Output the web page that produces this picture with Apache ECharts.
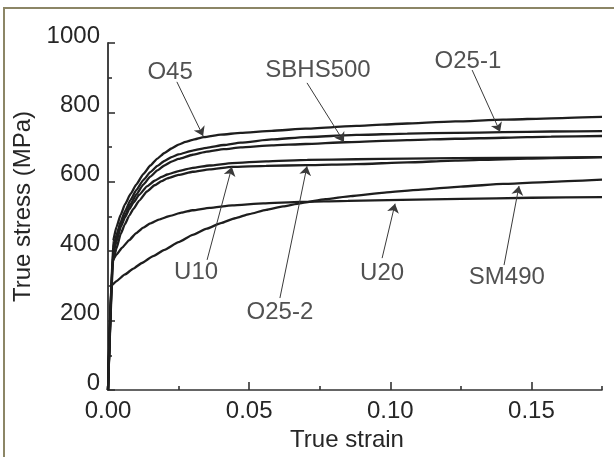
<!DOCTYPE html>
<html>
<head>
<meta charset="utf-8">
<script src="https://cdn.jsdelivr.net/npm/echarts@6/dist/echarts.min.js"></script>
<style>
  html, body { margin: 0; padding: 0; background: #ffffff; }
  #chart { position: absolute; left: 0; top: 0; width: 614px; height: 457px; }
  #frame {
    position: absolute; left: 3px; top: 7px; width: 620px; height: 460px;
    border-left: 2px solid #8c8666; border-top: 2px solid #8c8666;
    pointer-events: none;
  }
</style>
</head>
<body>
<div id="chart"></div>
<div id="frame"></div>
<script>
// True stress - true strain curves, [strain, stress (MPa)]
const O45 = [[0,0],[0.0018,430],[0.003,470],[0.0045,505],[0.006,535],[0.008,565],[0.010,592],[0.0125,622],[0.015,647],[0.0175,667],[0.020,683],[0.0225,696],[0.025,707],[0.0275,715],[0.030,721],[0.034,729],[0.040,736],[0.047,741],[0.058,747],[0.070,753],[0.088,761],[0.106,768],[0.123,774],[0.140,779],[0.157,783],[0.175,787]];
const O25_1 = [[0,0],[0.0018,410],[0.003,447],[0.0045,485],[0.006,515],[0.008,548],[0.010,576],[0.0125,605],[0.015,628],[0.0175,646],[0.020,660],[0.0225,671],[0.025,679],[0.030,690],[0.035,698],[0.041,706],[0.047,713],[0.058,722],[0.070,729],[0.088,735],[0.106,739],[0.123,741],[0.140,743],[0.157,745],[0.175,746]];
const SBHS500 = [[0,0],[0.0018,400],[0.003,437],[0.0045,473],[0.006,503],[0.008,536],[0.010,563],[0.0125,592],[0.015,615],[0.0175,633],[0.020,647],[0.0225,658],[0.025,666],[0.030,678],[0.035,687],[0.041,694],[0.047,699],[0.058,705],[0.070,709],[0.084,714],[0.106,720],[0.123,724],[0.140,727],[0.157,730],[0.175,732]];
const O25_2 = [[0,0],[0.0018,390],[0.003,428],[0.0045,470],[0.006,497],[0.0075,520],[0.009,540],[0.011,562],[0.0138,587],[0.0165,603],[0.019,614],[0.021,621],[0.025,631],[0.030,640],[0.036,647],[0.044,654],[0.056,659],[0.0706,663],[0.088,665],[0.106,667],[0.140,669],[0.175,671]];
const U10 = [[0,0],[0.0018,370],[0.003,408],[0.0045,450],[0.006,478],[0.0075,502],[0.009,522],[0.011,545],[0.0138,572],[0.0165,590],[0.019,602],[0.021,610],[0.025,620],[0.030,629],[0.036,636],[0.044,643],[0.056,646],[0.0706,648],[0.088,651],[0.106,656],[0.123,661],[0.140,665],[0.157,668],[0.175,671]];
const U20 = [[0,0],[0.0015,372],[0.003,390],[0.005,410],[0.0075,432],[0.010,452],[0.0125,468],[0.015,480],[0.018,491],[0.022,502],[0.026,511],[0.030,518],[0.036,525],[0.044,532],[0.055,538],[0.068,542],[0.085,545],[0.104,548],[0.125,551],[0.150,554],[0.175,556]];
const SM490 = [[0,0],[0.0011,300],[0.003,314],[0.006,333],[0.009,350],[0.012,366],[0.016,386],[0.020,404],[0.025,426],[0.030,447],[0.035,465],[0.040,481],[0.045,495],[0.050,507],[0.056,519],[0.062,529],[0.068,538],[0.077,550],[0.086,559],[0.098,569],[0.110,577],[0.125,586],[0.140,594],[0.157,600],[0.175,606]];

const seriesNames = ['O45', 'O25-1', 'SBHS500', 'O25-2', 'U10', 'U20', 'SM490'];
const seriesData = [O45, O25_1, SBHS500, O25_2, U10, U20, SM490];

// axis ticks
const xMajorTicks = [0, 0.05, 0.10, 0.15];
const xMinorTicks = [0.025, 0.075, 0.125, 0.175];
const yMajorTicks = [0, 200, 400, 600, 800, 1000];

// callout placement in data units: label anchor, leader start, leader end
const callouts = [
  { name: 'O45',     text: [0.0220, 916], from: [0.0244, 888], to: [0.0337, 732] },
  { name: 'SBHS500', text: [0.0744, 922], from: [0.0705, 885], to: [0.0836, 715] },
  { name: 'O25-1',   text: [0.1275, 948], from: [0.1290, 922], to: [0.1389, 744] },
  { name: 'U10',     text: [0.0312, 340], from: [0.0351, 375], to: [0.0439, 643] },
  { name: 'O25-2',   text: [0.0609, 225], from: [0.0609, 265], to: [0.0705, 645] },
  { name: 'U20',     text: [0.0971, 337], from: [0.0971, 380], to: [0.1017, 537] },
  { name: 'SM490',   text: [0.1413, 326], from: [0.1403, 360], to: [0.1456, 588] }
];

const FONT = 'Liberation Sans, Arial, sans-serif';
const INK = '#262626';

const chart = echarts.init(document.getElementById('chart'), null, { renderer: 'canvas' });

const curveSeries = seriesNames.map((name, i) => ({
  name: name,
  type: 'line',
  data: seriesData[i],
  showSymbol: false,
  smooth: 0.15,
  smoothMonotone: 'x',
  lineStyle: { color: '#1e1e1e', width: 2.3 },
  z: 3
}));

chart.setOption({
  backgroundColor: '#ffffff',
  animation: false,
  grid: { left: 108, top: 43, right: 12, bottom: 67, containLabel: false },
  xAxis: [
    {
      type: 'value', min: 0, max: 0.175, position: 'bottom',
      name: 'True strain', nameLocation: 'middle', nameGap: 35,
      nameTextStyle: { fontFamily: FONT, fontSize: 24, color: INK, padding: [0, 16, 0, 0] },
      axisLine: { show: true, lineStyle: { color: '#333', width: 1.6 } },
      axisTick: { show: true, inside: true, length: 8, customValues: xMajorTicks, lineStyle: { color: '#333', width: 1.6 } },
      axisLabel: {
        show: true, customValues: xMajorTicks, margin: 9,
        fontFamily: FONT, fontSize: 24, color: INK, lineHeight: 24,
        formatter: v => v.toFixed(2)
      },
      splitLine: { show: false }
    },
    {
      type: 'value', min: 0, max: 0.175, position: 'bottom', offset: 0,
      axisLine: { show: false },
      axisTick: { show: true, inside: true, length: 4, customValues: xMinorTicks, lineStyle: { color: '#333', width: 1.6 } },
      axisLabel: { show: false },
      splitLine: { show: false }
    }
  ],
  yAxis: {
    type: 'value', min: 0, max: 1000, interval: 200,
    name: 'True stress (MPa)', nameLocation: 'middle', nameGap: 43, nameRotate: 90,
    nameTextStyle: { fontFamily: FONT, fontSize: 24, color: INK, padding: [0, 0, 0, 20] },
    axisLine: { show: true, lineStyle: { color: '#444', width: 2 } },
    axisTick: { show: true, inside: true, length: 7, lineStyle: { color: '#333', width: 1.6 } },
    minorTick: { show: true, splitNumber: 2, length: 4, lineStyle: { color: '#333', width: 1.6 } },
    axisLabel: {
      show: true, margin: 8, customValues: yMajorTicks,
      fontFamily: FONT, fontSize: 24, color: INK,
      verticalAlign: 'bottom', lineHeight: 14,
      formatter: v => String(v)
    },
    splitLine: { show: false },
    minorSplitLine: { show: false }
  },
  series: curveSeries.concat([
    {
      name: 'leaders',
      type: 'lines',
      coordinateSystem: 'cartesian2d',
      symbol: ['none', 'arrow'],
      symbolSize: [6, 9],
      lineStyle: { color: '#3a3a3a', width: 1, opacity: 1 },
      data: callouts.map(c => ({ coords: [c.from, c.to] })),
      z: 4
    },
    {
      name: 'labels',
      type: 'scatter',
      symbol: 'circle',
      symbolSize: 1,
      itemStyle: { color: 'rgba(0,0,0,0)' },
      label: {
        show: true, position: 'inside', formatter: '{b}',
        fontFamily: FONT, fontSize: 24, color: INK
      },
      data: callouts.map(c => ({ name: c.name, value: c.text })),
      z: 5
    }
  ])
});
</script>
</body>
</html>
